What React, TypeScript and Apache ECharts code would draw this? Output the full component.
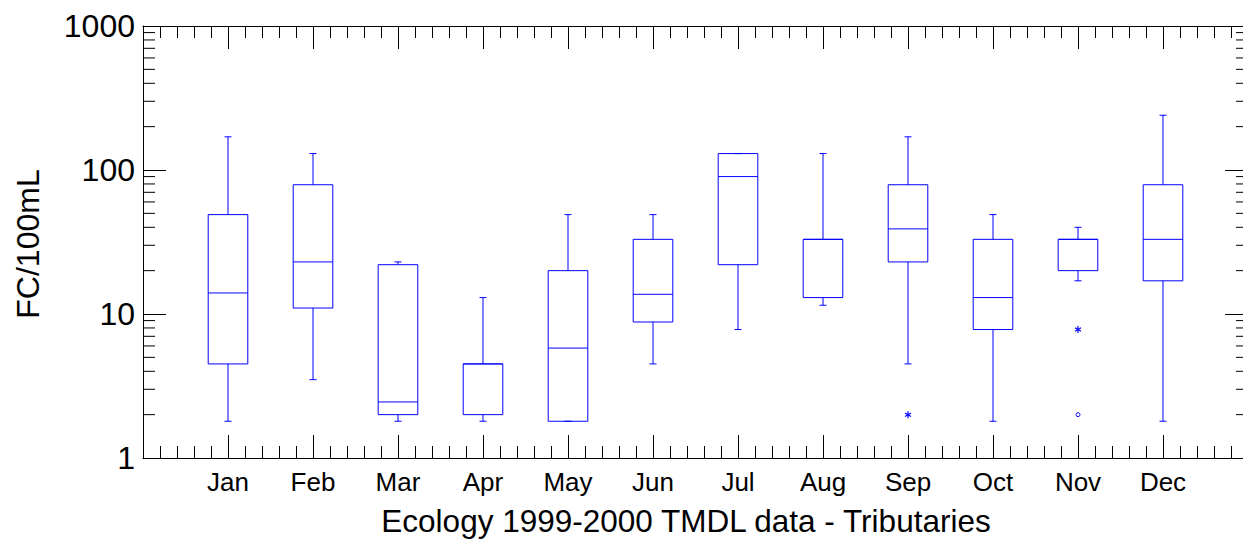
import React, { useEffect, useRef } from "react";
import * as echarts from "echarts";

// Monthly fecal coliform box plots (FC/100mL), log scale
const months = ["Jan", "Feb", "Mar", "Apr", "May", "Jun", "Jul", "Aug", "Sep", "Oct", "Nov", "Dec"];
const whiskerLow = [1.8, 3.5, 1.8, 1.8, 1.8, 4.5, 7.8, 11.5, 4.5, 1.8, 17, 1.8];
const quartile1 = [4.5, 11, 2.0, 2.0, 1.8, 8.8, 22, 13, 23, 7.8, 20, 17];
const medians = [14, 23, 2.45, 4.5, 5.8, 13.7, 90, 33, 39, 13, 33, 33];
const quartile3 = [49, 79, 22, 4.5, 20, 33, 130, 33, 79, 33, 33, 79];
const whiskerHigh = [170, 130, 23, 13, 49, 49, 130, 130, 170, 49, 40, 240];

// Outside values: month number, value, marker (star = outside, circle = far out)
const outlierMonth = [9, 11, 11];
const outlierValue = [2.0, 7.8, 2.0];
const outlierMarker = ["star", "star", "circle"];

// Log axis minor tick values
const yMinorTicks = [2, 3, 4, 5, 6, 7, 8, 9, 20, 30, 40, 50, 60, 70, 80, 90, 200, 300, 400, 500, 600, 700, 800, 900];

const FONT = '"Liberation Sans", Arial, Helvetica, sans-serif';
const BLUE = "#0000ff";
const INK = "#000000";

export default function App() {
  const ref = useRef<HTMLDivElement>(null);

  useEffect(() => {
    document.body.style.margin = "0";
    const chart = echarts.init(ref.current as HTMLDivElement, null, { renderer: "svg" });

    const boxData = months.map((_, i) => [i + 1, whiskerLow[i], quartile1[i], medians[i], quartile3[i], whiskerHigh[i]]);
    const outlierData = outlierMonth.map((m, i) => [m, outlierValue[i], outlierMarker[i] === "circle" ? 1 : 0]);
    const minorData = yMinorTicks.map((v) => [0, v]);

    const xCommon = {
      type: "value",
      min: 0,
      max: 13,
      interval: 1,
      axisLine: { show: true, onZero: false, lineStyle: { color: INK, width: 1 } },
      axisTick: { show: true, inside: true, length: 23, lineStyle: { color: INK, width: 1 } },
      minorTick: { show: true, splitNumber: 5, length: 12, lineStyle: { color: INK, width: 1 } },
      splitLine: { show: false },
      minorSplitLine: { show: false },
    };

    const yCommon = {
      type: "log",
      logBase: 10,
      min: 1,
      max: 1000,
      axisLine: { show: true, onZero: false, lineStyle: { color: INK, width: 1 } },
      axisTick: { show: true, inside: true, length: 23, lineStyle: { color: INK, width: 1 } },
      splitLine: { show: false },
    };

    const lineStyle = { stroke: BLUE, lineWidth: 1, fill: "none" };

    const option = {
      animation: false,
      backgroundColor: "#ffffff",
      grid: {
        left: 143,
        top: 26,
        width: 1105,
        height: 432,
        containLabel: false,
        outerBoundsMode: "none",
      },
      xAxis: [
        {
          ...xCommon,
          position: "bottom",
          axisLabel: {
            show: true,
            color: INK,
            fontSize: 26,
            fontFamily: FONT,
            margin: 11,
            formatter: (v: number) => months[v - 1] ?? "",
          },
        },
        { ...xCommon, position: "top", axisLabel: { show: false } },
      ],
      yAxis: [
        {
          ...yCommon,
          position: "left",
          axisLabel: {
            show: true,
            color: INK,
            fontSize: 32,
            fontFamily: FONT,
            margin: 8,
            formatter: (v: number) => String(Math.round(v)),
          },
        },
        { ...yCommon, position: "right", axisLabel: { show: false } },
      ],
      graphic: [
        {
          type: "text",
          x: 686,
          y: 521,
          silent: true,
          style: {
            text: "Ecology 1999-2000 TMDL data - Tributaries",
            fill: INK,
            font: `31.5px ${FONT}`,
            textAlign: "center",
            textVerticalAlign: "middle",
          },
        },
        {
          type: "text",
          x: 28,
          y: 244,
          rotation: Math.PI / 2,
          silent: true,
          style: {
            text: "FC/100mL",
            fill: INK,
            font: `32px ${FONT}`,
            textAlign: "center",
            textVerticalAlign: "middle",
          },
        },
      ],
      series: [
        {
          type: "custom",
          name: "boxes",
          silent: true,
          xAxisIndex: 0,
          yAxisIndex: 0,
          data: boxData,
          encode: { x: 0, y: [1, 2, 3, 4, 5] },
          renderItem: (_params: any, api: any) => {
            const m = api.value(0);
            const p = (v: number) => api.coord([m, v]);
            const cx = p(api.value(3))[0];
            const yLo = p(api.value(1))[1];
            const yQ1 = p(api.value(2))[1];
            const yMed = p(api.value(3))[1];
            const yQ3 = p(api.value(4))[1];
            const yHi = p(api.value(5))[1];
            const step = api.coord([m + 1, 10])[0] - api.coord([m, 10])[0];
            const half = step * 0.233;
            const cap = 3.5;
            return {
              type: "group",
              children: [
                { type: "line", shape: { x1: cx, y1: yHi, x2: cx, y2: yQ3 }, style: lineStyle },
                { type: "line", shape: { x1: cx, y1: yQ1, x2: cx, y2: yLo }, style: lineStyle },
                { type: "line", shape: { x1: cx - cap, y1: yHi, x2: cx + cap, y2: yHi }, style: lineStyle },
                { type: "line", shape: { x1: cx - cap, y1: yLo, x2: cx + cap, y2: yLo }, style: lineStyle },
                { type: "rect", shape: { x: cx - half, y: yQ3, width: 2 * half, height: yQ1 - yQ3 }, style: lineStyle },
                { type: "line", shape: { x1: cx - half, y1: yMed, x2: cx + half, y2: yMed }, style: lineStyle },
              ],
            };
          },
        },
        {
          type: "custom",
          name: "outliers",
          silent: true,
          xAxisIndex: 0,
          yAxisIndex: 0,
          data: outlierData,
          encode: { x: 0, y: 1 },
          renderItem: (_params: any, api: any) => {
            const [x, y] = api.coord([api.value(0), api.value(1)]);
            if (api.value(2) === 1) {
              return { type: "circle", shape: { cx: x, cy: y, r: 2 }, style: { fill: "none", stroke: BLUE, lineWidth: 1 } };
            }
            const r = 3.5;
            const st = { stroke: BLUE, lineWidth: 1.2 };
            const arms = [90, 30, 150].map((deg) => {
              const a = (deg * Math.PI) / 180;
              const dx = r * Math.cos(a);
              const dy = r * Math.sin(a);
              return { type: "line", shape: { x1: x - dx, y1: y - dy, x2: x + dx, y2: y + dy }, style: st };
            });
            return { type: "group", children: arms };
          },
        },
        {
          type: "custom",
          name: "log minor ticks",
          silent: true,
          xAxisIndex: 0,
          yAxisIndex: 0,
          data: minorData,
          encode: { x: 0, y: 1 },
          renderItem: (params: any, api: any) => {
            const cs = params.coordSys;
            const y = api.coord([0, api.value(1)])[1];
            const st = { stroke: INK, lineWidth: 1 };
            return {
              type: "group",
              children: [
                { type: "line", shape: { x1: cs.x, y1: y, x2: cs.x + 12, y2: y }, style: st },
                { type: "line", shape: { x1: cs.x + cs.width - 12, y1: y, x2: cs.x + cs.width, y2: y }, style: st },
              ],
            };
          },
        },
      ],
    };

    chart.setOption(option as any);
    return () => chart.dispose();
  }, []);

  return <div ref={ref} style={{ position: "absolute", left: 0, top: 0, width: 1243, height: 539 }} />;
}
